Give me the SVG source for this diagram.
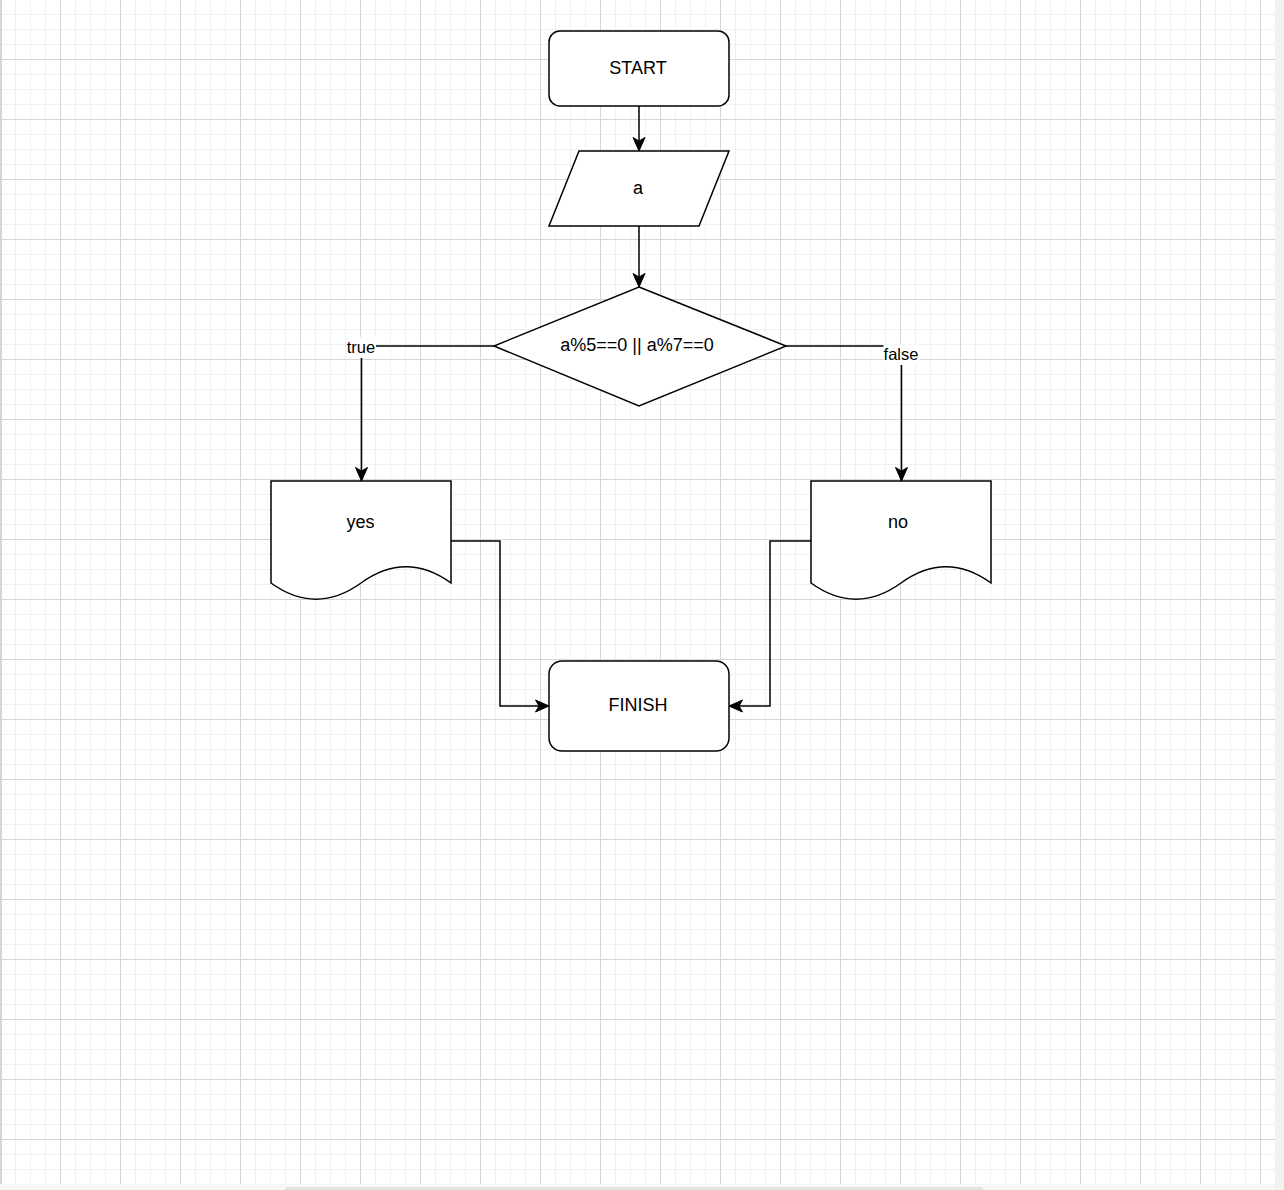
<svg xmlns="http://www.w3.org/2000/svg" width="1284" height="1190" viewBox="0 0 1284 1190">
  <style>
    .shape { fill: #ffffff; stroke: #000000; stroke-width: 1.5; }
    .edge { fill: none; stroke: #000000; stroke-width: 1.5; }
    .lbl { font-family: "Liberation Sans", Arial, Helvetica, sans-serif; font-size: 18px; fill: #000000; text-anchor: middle; }
    .elbl { font-family: "Liberation Sans", Arial, Helvetica, sans-serif; font-size: 16.5px; fill: #000000; text-anchor: middle; }
    .lblbg { fill: #ffffff; stroke: none; }
  </style>
  <defs>
    <pattern id="grid" patternUnits="userSpaceOnUse" x="0" y="-1" width="60" height="60">
      <rect x="0" y="0" width="60" height="60" fill="#ffffff"/>
      <rect x="15" y="0" width="1" height="60" fill="#f0f0f0"/>
      <rect x="30" y="0" width="1" height="60" fill="#f0f0f0"/>
      <rect x="45" y="0" width="1" height="60" fill="#f0f0f0"/>
      <rect x="0" y="15" width="60" height="1" fill="#f0f0f0"/>
      <rect x="0" y="30" width="60" height="1" fill="#f0f0f0"/>
      <rect x="0" y="45" width="60" height="1" fill="#f0f0f0"/>
      <rect x="0" y="0" width="60" height="1" fill="#d6d6d6"/>
      <rect x="0" y="0" width="1" height="60" fill="#d6d6d6"/>
    </pattern>
    <marker id="arrow" markerUnits="userSpaceOnUse" markerWidth="16" markerHeight="16" refX="14" refY="7" orient="auto" viewBox="0 0 16 14">
      <path d="M14,7 L0.5,1 L4,7 L0.5,13 Z" fill="#000000" stroke="#000000" stroke-width="1"/>
    </marker>
  </defs>

  <g id="background">
    <rect x="0" y="0" width="1284" height="1190" fill="#f7f7f7"/>
    <rect x="0" y="0" width="1275" height="1184" fill="url(#grid)"/>
    <rect x="1" y="0" width="1" height="1184" fill="#d6d6d6"/>
    <rect x="1275" y="0" width="9" height="1190" fill="#f1f1f1"/>
    <rect x="285" y="1187" width="698" height="3" fill="#e3e3e3"/>
  </g>

  <g id="connectors">
    <path class="edge" d="M639,106 L639,151" marker-end="url(#arrow)"/>
    <path class="edge" d="M639,226 L639,287" marker-end="url(#arrow)"/>
    <path class="edge" d="M494,346 L361.5,346 L361.5,481" marker-end="url(#arrow)"/>
    <path class="edge" d="M786,346 L901.5,346 L901.5,481" marker-end="url(#arrow)"/>
    <path class="edge" d="M451,541 L500,541 L500,706 L549,706" marker-end="url(#arrow)"/>
    <path class="edge" d="M811,541 L770,541 L770,706 L729,706" marker-end="url(#arrow)"/>
    <g id="label-true">
      <rect class="lblbg" x="346" y="337" width="30" height="21"/>
      <text class="elbl" x="361" y="353">true</text>
    </g>
    <g id="label-false">
      <rect class="lblbg" x="883.5" y="344.5" width="36" height="20.5"/>
      <text class="elbl" x="901" y="360">false</text>
    </g>
  </g>

  <g id="start">
    <rect class="shape" x="549" y="31" width="180" height="75" rx="11" ry="11"/>
    <text class="lbl" x="638" y="74">START</text>
  </g>

  <g id="input-a">
    <polygon class="shape" points="579,151 729,151 699,226 549,226"/>
    <text class="lbl" x="638" y="194">a</text>
  </g>

  <g id="decision">
    <polygon class="shape" points="639,287 786,346 639,406 494,346"/>
    <text class="lbl" x="637" y="351">a%5==0 || a%7==0</text>
  </g>

  <g id="doc-yes">
    <path class="shape" d="M271,481 H451 V583 Q406,550.6 361,583 Q316,615.4 271,583 Z"/>
    <text class="lbl" x="360.5" y="528">yes</text>
  </g>

  <g id="doc-no">
    <path class="shape" d="M811,481 H991 V583 Q946,550.6 901,583 Q856,615.4 811,583 Z"/>
    <text class="lbl" x="898" y="528">no</text>
  </g>

  <g id="finish">
    <rect class="shape" x="549" y="661" width="180" height="90" rx="13" ry="13"/>
    <text class="lbl" x="638" y="711">FINISH</text>
  </g>
</svg>
